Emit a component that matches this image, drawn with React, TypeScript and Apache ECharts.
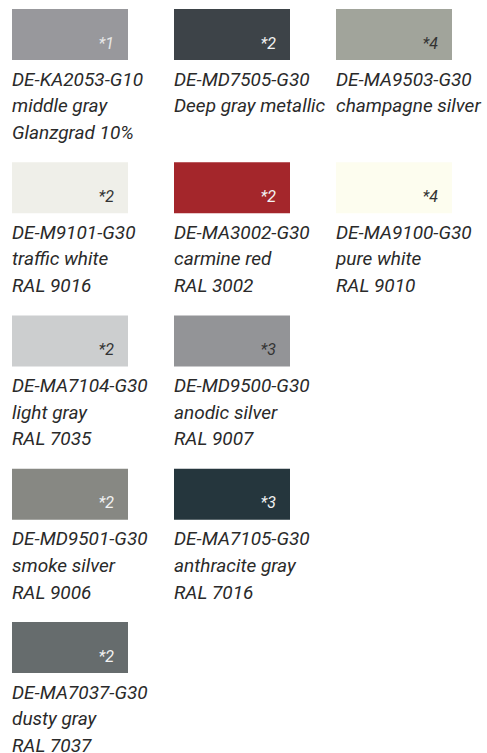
import React, { useEffect, useRef } from "react";
import * as echarts from "echarts";

const codes = [
  "DE-KA2053-G10", "DE-MD7505-G30", "DE-MA9503-G30",
  "DE-M9101-G30", "DE-MA3002-G30", "DE-MA9100-G30",
  "DE-MA7104-G30", "DE-MD9500-G30",
  "DE-MD9501-G30", "DE-MA7105-G30",
  "DE-MA7037-G30",
];
const names = [
  "middle gray", "Deep gray metallic", "champagne silver",
  "traffic white", "carmine red", "pure white",
  "light gray", "anodic silver",
  "smoke silver", "anthracite gray",
  "dusty gray",
];
const extraLines = [
  "Glanzgrad 10%", "", "",
  "RAL 9016", "RAL 3002", "RAL 9010",
  "RAL 7035", "RAL 9007",
  "RAL 9006", "RAL 7016",
  "RAL 7037",
];
const notes = ["*1", "*2", "*4", "*2", "*2", "*4", "*2", "*3", "*2", "*3", "*2"];
const swatchColors = [
  "#98989c", "#3d4348", "#a1a49b",
  "#efefe9", "#a4262b", "#fdfdef",
  "#cccecf", "#939497",
  "#878883", "#25363d",
  "#666c6d",
];
const noteColors = [
  "#e8e8e8", "#f2f2f2", "#333333",
  "#333333", "#f2f2f2", "#333333",
  "#333333", "#333333",
  "#f2f2f2", "#f2f2f2",
  "#f2f2f2",
];
const columns = [0, 1, 2, 0, 1, 2, 0, 1, 0, 1, 0];
const rows = [0, 0, 0, 1, 1, 1, 2, 2, 3, 3, 4];

export default function App() {
  const ref = useRef<HTMLDivElement>(null);
  useEffect(() => {
    document.body.style.margin = "0";
    const chart = echarts.init(ref.current!, null, { renderer: "svg" });
    const data = codes.map((_, i) => [columns[i], rows[i], i]);
    const font = "Roboto, 'Noto Sans', sans-serif";
    chart.setOption({
      animation: false,
      backgroundColor: "#ffffff",
      grid: { left: 12, top: 9, width: 324, height: 613 },
      xAxis: { type: "value", min: 0, max: 2, show: false },
      yAxis: { type: "value", min: 0, max: 4, inverse: true, show: false },
      series: [
        {
          type: "custom",
          clip: false,
          data,
          renderItem: (params: any, api: any) => {
            const i = api.value(2);
            const p = api.coord([api.value(0), api.value(1)]);
            const x = p[0];
            const y = p[1];
            const children: any[] = [
              {
                type: "rect",
                shape: { x, y, width: 116, height: 51 },
                style: { fill: swatchColors[i] },
              },
              {
                type: "text",
                style: {
                  text: notes[i],
                  x: x + 102,
                  y: y + 34,
                  align: "right",
                  verticalAlign: "middle",
                  fontSize: 16,
                  fontStyle: "italic",
                  fontFamily: font,
                  fill: noteColors[i],
                },
              },
            ];
            const lines = [codes[i], names[i], extraLines[i]];
            lines.forEach((t, k) => {
              if (!t) return;
              children.push({
                type: "text",
                style: {
                  text: t,
                  x: x,
                  y: y + 70 + k * 26.7,
                  align: "left",
                  verticalAlign: "middle",
                  fontSize: 19,
                  fontStyle: "italic",
                  fontFamily: font,
                  fill: "#2a2a2a",
                },
              });
            });
            return { type: "group", children };
          },
        },
      ],
    });
    return () => chart.dispose();
  }, []);
  return <div ref={ref} style={{ width: 487, height: 753 }} />;
}
